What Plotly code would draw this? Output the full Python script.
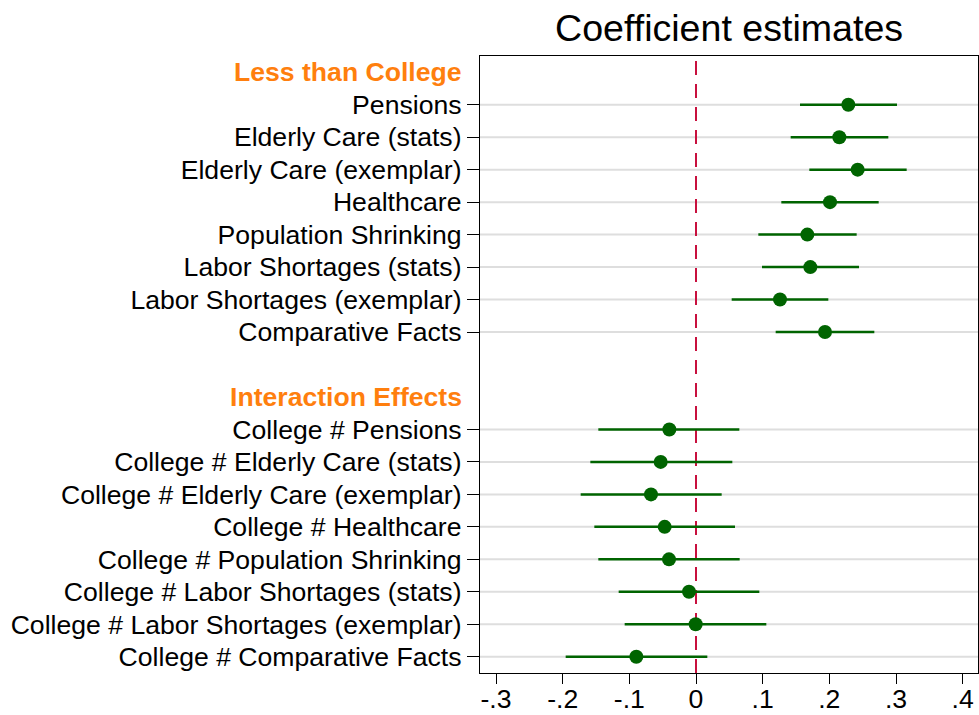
import plotly.graph_objects as go

# ---------------- data ----------------
header_labels = ["Less than College", "Interaction Effects"]
header_rows = [0, 10]

labels = [
    "Pensions", "Elderly Care (stats)", "Elderly Care (exemplar)", "Healthcare",
    "Population Shrinking", "Labor Shortages (stats)", "Labor Shortages (exemplar)",
    "Comparative Facts",
    "College # Pensions", "College # Elderly Care (stats)",
    "College # Elderly Care (exemplar)", "College # Healthcare",
    "College # Population Shrinking", "College # Labor Shortages (stats)",
    "College # Labor Shortages (exemplar)", "College # Comparative Facts",
]
rows = [1, 2, 3, 4, 5, 6, 7, 8, 11, 12, 13, 14, 15, 16, 17, 18]

estimates = [0.2285, 0.215, 0.2425, 0.201, 0.167, 0.1715, 0.126, 0.1935,
             -0.040, -0.053, -0.0675, -0.047, -0.0405, -0.0105, -0.0005, -0.0895]
ci_low = [0.156, 0.142, 0.170, 0.128, 0.0935, 0.099, 0.0535, 0.1195,
          -0.1465, -0.1585, -0.173, -0.1525, -0.1465, -0.116, -0.107, -0.1955]
ci_high = [0.3015, 0.2885, 0.316, 0.274, 0.241, 0.2445, 0.1985, 0.2675,
           0.065, 0.0545, 0.0385, 0.0585, 0.0655, 0.095, 0.1055, 0.017]

x_tickvals = [-0.3, -0.2, -0.1, 0, 0.1, 0.2, 0.3, 0.4]
x_ticktext = ["-.3", "-.2", "-.1", "0", ".1", ".2", ".3", ".4"]

# ---------------- styles ----------------
FONT = "Liberation Sans, Arial, Helvetica, sans-serif"
GREEN = "#006400"
ORANGE = "#FF7F0E"
RED = "#C8103E"
FS = 26.6

err_plus = [h - e for h, e in zip(ci_high, estimates)]
err_minus = [e - l for e, l in zip(estimates, ci_low)]

fig = go.Figure()

# gridlines only at data rows
for r in rows:
    fig.add_shape(type="line", xref="paper", yref="y", x0=0, x1=1, y0=r, y1=r,
                  line=dict(color="#DEDEDE", width=2), layer="below")

# zero reference line
fig.add_shape(type="line", xref="x", yref="paper", x0=0, x1=0, y0=0, y1=1,
              line=dict(color=RED, width=2, dash="14px,9px"), layer="between")

fig.add_trace(go.Scatter(
    x=estimates, y=rows, mode="markers",
    marker=dict(color=GREEN, size=14, line=dict(width=0)),
    error_x=dict(type="data", symmetric=False, array=err_plus, arrayminus=err_minus,
                 color=GREEN, thickness=2.5, width=0),
    showlegend=False, hoverinfo="skip",
))

for txt, r in zip(header_labels, header_rows):
    fig.add_annotation(x=0, xref="paper", y=r, yref="y", text="<b>%s</b>" % txt,
                       xanchor="right", yanchor="middle", xshift=-16, showarrow=False,
                       font=dict(family=FONT, size=FS, color=ORANGE))

fig.add_annotation(x=0.5, xref="paper", y=1 + (56 - 28) / 617, yref="paper",
                   text="Coefficient estimates", showarrow=False,
                   xanchor="center", yanchor="middle",
                   font=dict(family=FONT, size=37.6, color="black"))

fig.update_layout(
    width=979, height=715, autosize=False,
    margin=dict(l=480, r=1, t=56, b=42),
    paper_bgcolor="white", plot_bgcolor="white",
    font=dict(family=FONT, size=FS, color="black"),
    showlegend=False,
)
fig.update_xaxes(
    range=[-0.324, 0.423], tickvals=x_tickvals, ticktext=x_ticktext,
    showgrid=False, zeroline=False,
    showline=True, linecolor="black", linewidth=1.3, mirror=True,
    ticks="outside", ticklen=10, tickwidth=1.3, tickcolor="black",
    tickfont=dict(family=FONT, size=FS, color="black"),
    ticklabelstandoff=-8,
    automargin=False,
)
fig.update_yaxes(
    range=[18.5, -0.5], tickvals=rows, ticktext=labels,
    showgrid=False, zeroline=False,
    showline=True, linecolor="black", linewidth=1.3, mirror=True,
    ticks="outside", ticklen=12, tickwidth=1.3, tickcolor="black",
    tickfont=dict(family=FONT, size=FS, color="black"),
    automargin=False,
)

fig.write_html(
    "out.html",
    config={"responsive": False, "displayModeBar": False},
    post_script="document.body.style.margin='0';document.body.style.overflow='hidden';"
                "Plotly.relayout(document.getElementById('{plot_id}'), {width: 979, height: 715});",
)
